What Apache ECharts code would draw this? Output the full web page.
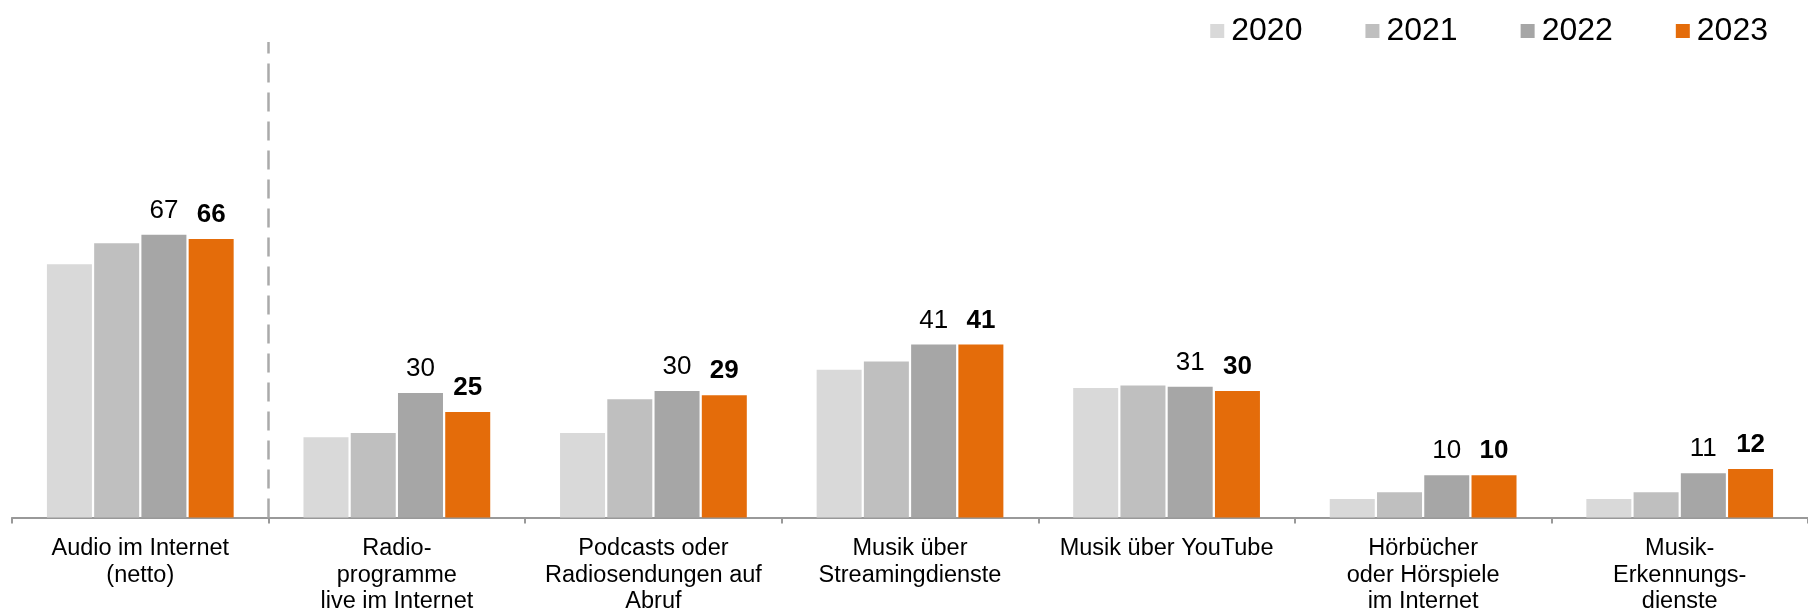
<!DOCTYPE html>
<html>
<head>
<meta charset="utf-8">
<script src="https://cdn.jsdelivr.net/npm/echarts@6/dist/echarts.min.js"></script>
<style>
  html, body { margin: 0; padding: 0; background: #ffffff; }
  #chart { width: 1808px; height: 615px; }
</style>
</head>
<body>
<div id="chart"></div>
<script>
const categories = [
  "Audio im Internet\n(netto)",
  "Radio-\nprogramme\nlive im Internet",
  "Podcasts oder\nRadiosendungen auf\nAbruf",
  "Musik über\nStreamingdienste",
  "Musik über YouTube",
  "Hörbücher\noder Hörspiele\nim Internet",
  "Musik-\nErkennungs-\ndienste"
];
const years = ["2020", "2021", "2022", "2023"];
const values2020 = [60, 19, 20, 35, 30.7, 4.4, 4.4];
const values2021 = [65, 20, 28, 37, 31.3, 6, 6];
const values2022 = [67, 29.5, 30, 41, 31, 10, 10.5];
const values2023 = [66, 25, 29, 41, 30, 10, 11.5];
// the dashed separator sits after the first category (boundary index 1)
const separatorBoundary = [1];

const colors = ["#d9d9d9", "#bfbfbf", "#a6a6a6", "#e46c0a"];

const FONT = "Liberation Sans, Arial, sans-serif";
const chart = echarts.init(document.getElementById('chart'), null, { renderer: 'canvas' });

function barSeries(name, data, color, label) {
  return {
    name: name,
    type: 'bar',
    data: data,
    barWidth: 45,
    barGap: '5%',
    itemStyle: { color: color },
    emphasis: { disabled: true },
    label: label
  };
}

const labelBase = {
  show: true,
  position: 'top',
  distance: 11,
  fontFamily: FONT,
  fontSize: 26,
  color: '#000000',
  formatter: (p) => String(Math.round(p.value))
};

chart.setOption({
  animation: false,
  backgroundColor: '#ffffff',
  color: colors,
  legend: {
    data: years,
    right: 35,
    top: 10,
    icon: 'rect',
    itemWidth: 14,
    itemHeight: 14,
    itemGap: 63,
    textStyle: { fontFamily: FONT, fontSize: 32, color: '#000000', padding: [0, 0, 0, 2] }
  },
  grid: { left: 12, top: 42, width: 1801, bottom: 94, containLabel: false },
  xAxis: [{
    type: 'category',
    data: categories,
    boundaryGap: true,
    axisLine: { show: true, lineStyle: { color: '#999999', width: 2 } },
    axisTick: { show: true, length: 6, lineStyle: { color: '#999999', width: 2 } },
    splitLine: { show: false },
    axisLabel: {
      interval: 0,
      margin: 18,
      fontFamily: FONT,
      fontSize: 23.5,
      lineHeight: 26.5,
      color: '#000000',
      align: 'center'
    }
  }, {
    type: 'value',
    min: 0,
    max: categories.length,
    show: false
  }],
  yAxis: {
    type: 'value',
    min: 0,
    max: 112.7,
    show: false,
    splitLine: { show: false }
  },
  series: [
    barSeries(years[0], values2020, colors[0], { show: false }),
    barSeries(years[1], values2021, colors[1], { show: false }),
    barSeries(years[2], values2022, colors[2], Object.assign({}, labelBase)),
    barSeries(years[3], values2023, colors[3], Object.assign({}, labelBase, { fontWeight: 'bold' })),
    {
      name: 'separator',
      type: 'line',
      xAxisIndex: 1,
      yAxisIndex: 0,
      data: [],
      silent: true,
      markLine: {
        silent: true,
        symbol: ['none', 'none'],
        label: { show: false },
        emphasis: { disabled: true },
        lineStyle: { color: '#aaaaaa', width: 2.5, type: [19, 10] },
        data: separatorBoundary.map(v => ({ xAxis: v }))
      }
    }
  ]
});
</script>
</body>
</html>
